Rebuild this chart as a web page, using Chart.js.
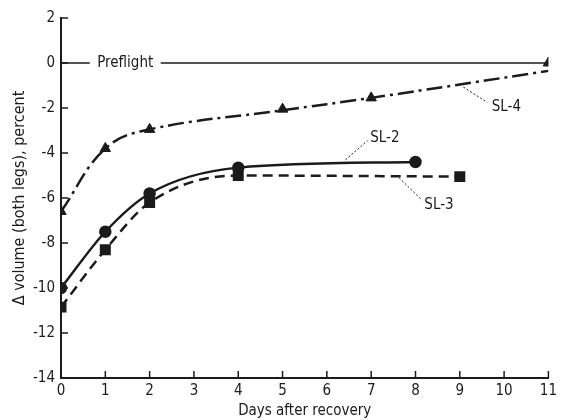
<!DOCTYPE html>
<html>
<head>
<meta charset="utf-8">
<script src="https://cdn.jsdelivr.net/npm/chart.js@4"></script>
<style>
  body { margin: 0; background: #fff; }
  canvas { display: block; }
</style>
</head>
<body>
<canvas id="chart" width="561" height="420"></canvas>
<script>
// values (days after recovery vs percent change)
const xTicks = [0, 1, 2, 3, 4, 5, 6, 7, 8, 9, 10, 11];
const yTicks = [-14, -12, -10, -8, -6, -4, -2, 0, 2];

const sl2Days = [0, 1, 2, 4, 8];
const sl2Values = [-10, -7.5, -5.8, -4.65, -4.4];

const sl3Days = [0, 1, 2, 4, 9];
const sl3Values = [-10.85, -8.3, -6.2, -5.0, -5.05];

const sl4Days = [0, 1, 2, 5, 7, 11];
const sl4Values = [-6.6, -3.8, -2.95, -2.05, -1.55, 0];
// fitted dash-dot curve ends a bit below the last marker
const sl4CurveValues = [-6.6, -3.8, -2.95, -2.1, -1.55, -0.35];

const preflightDays = [0, 11];
const preflightValues = [0, 0];

// labels with their leader lines, in data units
const callouts = [
    { text: 'SL-4', x: 9.72, y: -1.95, from: [9.08, -1.07], to: [9.62, -1.75] },
    { text: 'SL-2', x: 6.98, y: -3.35, from: [6.42, -4.3], to: [6.92, -3.45] },
    { text: 'SL-3', x: 8.2, y: -6.3, from: [7.63, -5.1], to: [8.15, -6.1] }
];

const ink = '#1b1b1b';
const fontFamily = '"DejaVu Sans Condensed", "Liberation Sans Narrow", "DejaVu Sans", sans-serif';

function toPoints(xs, ys) {
    return xs.map((x, i) => ({ x: x, y: ys[i] }));
}

const figurePlugin = {
    id: 'figure',
    afterDatasetsDraw(chart) {
        const ctx = chart.ctx;
        const xs = chart.scales.x;
        const ys = chart.scales.y;
        const area = chart.chartArea;
        ctx.save();
        ctx.strokeStyle = ink;
        ctx.lineWidth = 1.5;
        // inward tick marks
        xTicks.forEach(v => {
            const px = xs.getPixelForValue(v);
            ctx.beginPath();
            ctx.moveTo(px, area.bottom);
            ctx.lineTo(px, area.bottom - 7);
            ctx.stroke();
        });
        yTicks.forEach(v => {
            const py = ys.getPixelForValue(v);
            ctx.beginPath();
            ctx.moveTo(area.left, py);
            ctx.lineTo(area.left + 7, py);
            ctx.stroke();
        });

        // Preflight label sitting in a gap of the zero line
        ctx.font = '15px ' + fontFamily;
        ctx.textBaseline = 'middle';
        ctx.textAlign = 'center';
        const gx0 = xs.getPixelForValue(0.65);
        const gx1 = xs.getPixelForValue(2.25);
        const gy = ys.getPixelForValue(0);
        ctx.fillStyle = '#fff';
        ctx.fillRect(gx0, gy - 4, gx1 - gx0, 8);
        ctx.fillStyle = ink;
        ctx.fillText('Preflight', (gx0 + gx1) / 2, gy);

        // callouts
        ctx.textAlign = 'left';
        callouts.forEach(c => {
            ctx.lineWidth = 1;
            ctx.setLineDash([2, 2]);
            ctx.beginPath();
            ctx.moveTo(xs.getPixelForValue(c.from[0]), ys.getPixelForValue(c.from[1]));
            ctx.lineTo(xs.getPixelForValue(c.to[0]), ys.getPixelForValue(c.to[1]));
            ctx.stroke();
            ctx.setLineDash([]);
            ctx.fillText(c.text, xs.getPixelForValue(c.x), ys.getPixelForValue(c.y));
        });
        ctx.restore();
    }
};

const ctx = document.getElementById('chart').getContext('2d');
new Chart(ctx, {
    type: 'scatter',
    data: {
        datasets: [
            {
                label: 'Preflight',
                data: toPoints(preflightDays, preflightValues),
                showLine: true,
                borderColor: ink,
                borderWidth: 1.5,
                pointRadius: 0
            },
            {
                label: 'SL-4 curve',
                data: toPoints(sl4Days, sl4CurveValues),
                showLine: true,
                borderColor: ink,
                borderWidth: 2.5,
                borderDash: [16, 5, 3, 5],
                tension: 0.4,
                pointRadius: 0
            },
            {
                label: 'SL-4',
                data: toPoints(sl4Days, sl4Values),
                showLine: false,
                pointStyle: 'triangle',
                pointRadius: 6,
                backgroundColor: ink,
                borderColor: ink
            },
            {
                label: 'SL-2',
                data: toPoints(sl2Days, sl2Values),
                showLine: true,
                borderColor: ink,
                borderWidth: 2.5,
                cubicInterpolationMode: 'monotone',
                pointStyle: 'circle',
                pointRadius: 5,
                backgroundColor: ink
            },
            {
                label: 'SL-3',
                data: toPoints(sl3Days, sl3Values),
                showLine: true,
                borderColor: ink,
                borderWidth: 2.5,
                borderDash: [10, 6],
                cubicInterpolationMode: 'monotone',
                pointStyle: 'rect',
                pointRadius: 6,
                backgroundColor: ink
            }
        ]
    },
    options: {
        responsive: false,
        animation: false,
        layout: { padding: { top: 18, right: 8, left: 0, bottom: 0 } },
        plugins: {
            legend: { display: false },
            tooltip: { enabled: false }
        },
        scales: {
            x: {
                type: 'linear',
                min: 0,
                max: 11,
                afterFit: scale => { scale.height = 42; },
                afterBuildTicks: scale => { scale.ticks = xTicks.map(v => ({ value: v })); },
                grid: { display: false, drawTicks: false },
                border: { display: true, color: ink, width: 2 },
                ticks: { color: ink, padding: 4, font: { family: fontFamily, size: 15 } },
                title: {
                    display: true,
                    text: 'Days after recovery',
                    color: ink,
                    padding: { top: 0, bottom: 0 },
                    font: { family: fontFamily, size: 15 }
                }
            },
            y: {
                type: 'linear',
                min: -14,
                max: 2,
                afterFit: scale => { scale.width = 61; },
                afterBuildTicks: scale => { scale.ticks = yTicks.map(v => ({ value: v })); },
                grid: { display: false, drawTicks: false },
                border: { display: true, color: ink, width: 2 },
                ticks: { color: ink, padding: 6, font: { family: fontFamily, size: 15 } },
                title: {
                    display: true,
                    text: '\u0394 volume (both legs), percent',
                    color: ink,
                    padding: { top: 10, bottom: 0 },
                    font: { family: fontFamily, size: 16 }
                }
            }
        }
    },
    plugins: [figurePlugin]
});
</script>
</body>
</html>
